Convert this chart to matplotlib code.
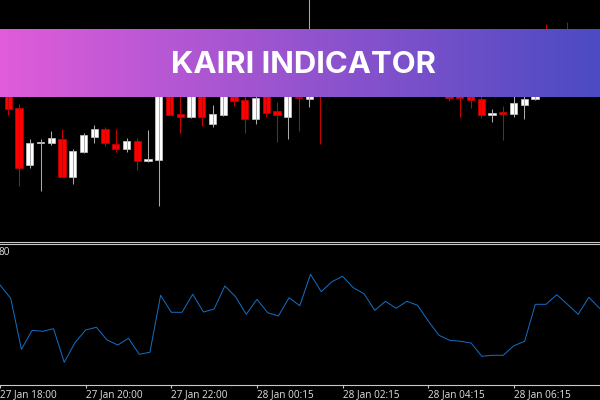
import numpy as np
import matplotlib
matplotlib.use('Agg')
import matplotlib.pyplot as plt

# all values, in screen rows of the chart panels
opens  = [85,108.3,165,143,143,139,177,152.3,137.3,129,143.7,149,141,161,160,88,114,117,80,124,115,88,100,118.7,85,111,116.7,97,98.7,60,
          70,78,60,55,72,50,64,58,70,68,80,90,92,92,99,114.7,112.3,114,104.7,98.7,50,62,45,70,52,66]
closes = [109,167.7,143,142,138,176.7,151.3,135.3,129.3,143,149,141.3,161,159,70,115,116.7,85,117,114,80,100.7,119,98.3,113,115,85,97.7,70,90,
          50,60,75,72,52,66,80,70,88,80,92,97.7,98.3,99.7,115,113,113.7,103,99,90,70,50,62,52,66,50]
highs  = [80,104,139.3,139.3,131,129.3,149.3,132.7,124.7,126.7,129.3,138,138,130,60,80,90,80,70,105,70,80,90,90,80,102.3,75,85,-5,50,
          45,50,52,48,46,42,55,50,62,60,72,85,85,85,90,109,106,92,90,80,24,45,21.7,45,46,42]
lows   = [115,185.7,168.3,191,145,177,184,153,143,146,151.7,152.3,170.3,162,206,115,132.7,118,125.7,126.7,116,105.7,132.7,124,116.7,141.7,139.3,131,106.7,144,
          84,82,85,80,76,80,90,92,94,92,95,100.7,116.7,107.7,117.7,121.7,140,116.7,119,100,80,70,80,72,76,70]

kairi = [298.3,349.3,330.3,331.3,328.7,362.3,342.7,330,327.3,340,345,338.3,354.3,352.3,295.3,312.3,312.3,294.3,312,309,
         286,296.7,314.3,299.3,312.7,316,297.7,305.7,274.3,291.7,281.7,276.3,287.7,293.7,310.3,301.3,308.3,301.3,305.3,321,
         335.3,340.3,341.3,343,356.3,355.3,355.3,345.7,341.3,304.3,304.3,294.7,304.3,314.3,297.3,308.3]
kairi_prev = 285

tick_idx = [-1,7,15,23,31,39,47]
tick_labels = ['27 Jan 18:00','27 Jan 20:00','27 Jan 22:00','28 Jan 00:15','28 Jan 02:15','28 Jan 04:15','28 Jan 06:15']

title = 'KAIRI INDICATOR'
banner_left = (224,92,218)
banner_right = (75,75,195)

x = np.arange(len(opens))
xlim = (-0.772,55.04)

fig = plt.figure(figsize=(6,4),dpi=100,facecolor='black')

# price panel
ax = fig.add_axes([0,1-242/400,1,242/400],facecolor='black')
up = [c<o for o,c in zip(opens,closes)]
colors = ['white' if u else '#ff0000' for u in up]
wick_colors = ['#aaaaaa' if u else '#c80000' for u in up]
ax.vlines(x,highs,lows,colors=wick_colors,linewidth=0.75)
tops = np.minimum(opens,closes)
bots = np.maximum(opens,closes)
ax.bar(x,bots-tops,bottom=tops,width=0.68,color=colors,linewidth=0.5,edgecolor=['#cccccc' if u else '#cc0000' for u in up])
ax.set_xlim(xlim)
ax.set_ylim(242,0)
ax.set_xticks([])
ax.set_yticks([])
for s in ['top','left','right']:
    ax.spines[s].set_visible(False)
ax.spines['bottom'].set_color('#c8c8c8')
ax.spines['bottom'].set_linewidth(0.8)

# indicator panel
ax2 = fig.add_axes([0,1-384.5/400,1,(384.5-244)/400],facecolor='black')
ax2.plot(np.arange(-1,len(kairi)),[kairi_prev]+kairi,color='#1570c8',linewidth=0.7)
ax2.set_xlim(xlim)
ax2.set_ylim(384.5,244)
ax2.set_yticks([])
ax2.set_xticks(tick_idx)
ax2.set_xticklabels(tick_labels,ha='left',fontsize=7.2,color='#e0e0e0',family='Open Sans')
ax2.tick_params(axis='x',length=2,width=0.8,color='#c8c8c8',pad=1)
for s in ['left','right']:
    ax2.spines[s].set_visible(False)
for s in ['top','bottom']:
    ax2.spines[s].set_color('#c8c8c8')
    ax2.spines[s].set_linewidth(0.8)
ax2.text(-0.04,252,'80',ha='right',va='center',fontsize=7.2,color='#e0e0e0',family='Open Sans')

# gradient banner on top of the chart
ax3 = fig.add_axes([0,1-97/400,1,68/400])
grad = np.linspace(banner_left,banner_right,256).reshape(1,256,3)/255
ax3.imshow(grad,aspect='auto',extent=[0,1,0,1])
ax3.axis('off')
ax3.text(0.506,0.47,title,ha='center',va='center',color='white',fontsize=22.4,fontweight='bold',family='Inter')

plt.savefig('out.png',dpi=100,facecolor='black')
